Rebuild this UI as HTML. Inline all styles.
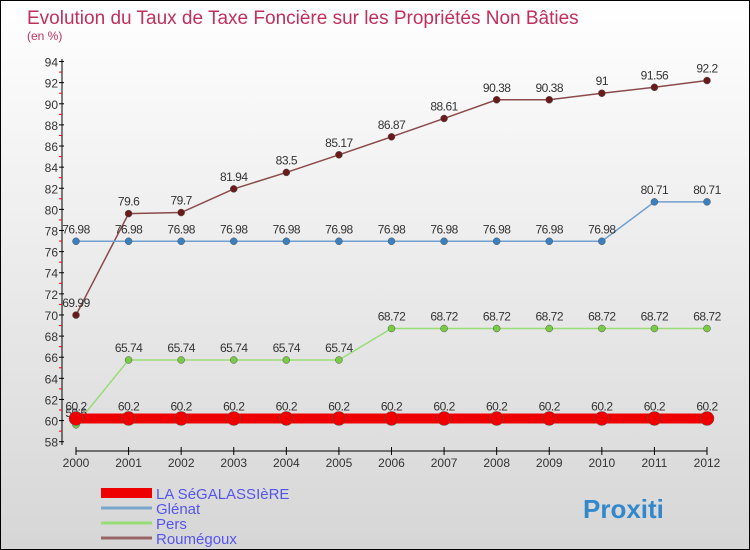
<!DOCTYPE html>
<html><head><meta charset="utf-8"><style>
body{margin:0}
#c{width:748px;height:548px;border:1px solid #000;background:linear-gradient(#fff,#d6d6d6);position:relative;font-family:"Liberation Sans",sans-serif}
</style></head><body>
<div id="c">
<svg id="s" width="748" height="548" style="position:absolute;left:0;top:0"></svg>
</div>
<script>
const years=[2000,2001,2002,2003,2004,2005,2006,2007,2008,2009,2010,2011,2012];
const yTicks=[58,60,62,64,66,68,70,72,74,76,78,80,82,84,86,88,90,92,94];
const segalassiere=[60.2,60.2,60.2,60.2,60.2,60.2,60.2,60.2,60.2,60.2,60.2,60.2,60.2];
const glenat=[76.98,76.98,76.98,76.98,76.98,76.98,76.98,76.98,76.98,76.98,76.98,80.71,80.71];
const pers=[59.6,65.74,65.74,65.74,65.74,65.74,68.72,68.72,68.72,68.72,68.72,68.72,68.72];
const roumegoux=[69.99,79.6,79.7,81.94,83.5,85.17,86.87,88.61,90.38,90.38,91,91.56,92.2];
const seriesNames=["LA SéGALASSIèRE","Glénat","Pers","Roumégoux"];
const ns="http://www.w3.org/2000/svg";
const s=document.getElementById('s');
const X=i=>75+i*(631/(years.length-1));
const Y=v=>440.7-(v-58)*10.56;
function el(t,a,p){const e=document.createElementNS(ns,t);for(const k in a)e.setAttribute(k,a[k]);(p||s).appendChild(e);return e;}
function tx(x,y,str,a){const e=el('text',Object.assign({x:x,y:y},a));e.textContent=str;return e;}
let t=tx(26,23,"Evolution du Taux de Taxe Foncière sur les Propriétés Non Bâties",{fill:"#c0305a","font-size":19});


t=tx(26,39,"(en %)",{fill:"#c0305a","font-size":12});


let ax=el('line',{x1:61,y1:58,x2:61,y2:444,stroke:"#000"});


yTicks.forEach(v=>{
 el('line',{x1:58,x2:63,y1:Y(v),y2:Y(v),stroke:"#000"});
 if(v<94) el('line',{x1:58,x2:61,y1:Y(v+1),y2:Y(v+1),stroke:"#f00"});
 const l=tx(57,Y(v)+5,String(v),{"text-anchor":"end","font-size":12,fill:"#333"});
 
 
});
ax=el('line',{x1:75,y1:450,x2:706,y2:450,stroke:"#000"});


years.forEach((y,i)=>{
 el('line',{x1:X(i),x2:X(i),y1:446,y2:454,stroke:"#000"});
 const l=tx(X(i),466,String(y),{"text-anchor":"middle","font-size":12,fill:"#333"});
 
 
});
function series(data,color,w,r,dot,name){
 const p=el('polyline',{points:data.map((v,i)=>X(i)+","+Y(v)).join(" "),fill:"none",stroke:color,"stroke-width":w});
 
 
 data.forEach((v,i)=>{
  const c=el('circle',{cx:X(i),cy:Y(v),r:r,fill:dot,stroke:"#555","stroke-width":0.5});
  
  
  const l=tx(X(i),Y(v)-8,String(v),{"text-anchor":"middle","font-size":12,fill:"#333","letter-spacing":"-0.5"});
  
  
 });
}
series(roumegoux,"#8b4a4a",1.5,3.5,"#6b1a1a","roumegoux");
series(glenat,"#6fa0d0",1.5,3.5,"#3a80c0","glenat");
series(pers,"#99dd77",1.5,3.5,"#77cc44","pers");
series(segalassiere,"#ee0000",10,7,"#ee0000","segalassiere");
const lc=["#ee0000","#7aa8cc","#99dd77","#996666"],lw=[10,3,3,3];
seriesNames.forEach((n,i)=>{
 const y=492+i*15;
 const l=el('line',{x1:100,x2:151,y1:y,y2:y,stroke:lc[i],"stroke-width":lw[i]});
 
 
 const t=tx(155,y+6,n,{"font-size":15,fill:"#5555ee"});
 
 
});
const lg=tx(582,517,"Proxiti",{"font-size":26,"font-weight":"bold",fill:"#3388cc"});


</script>
</body></html>
